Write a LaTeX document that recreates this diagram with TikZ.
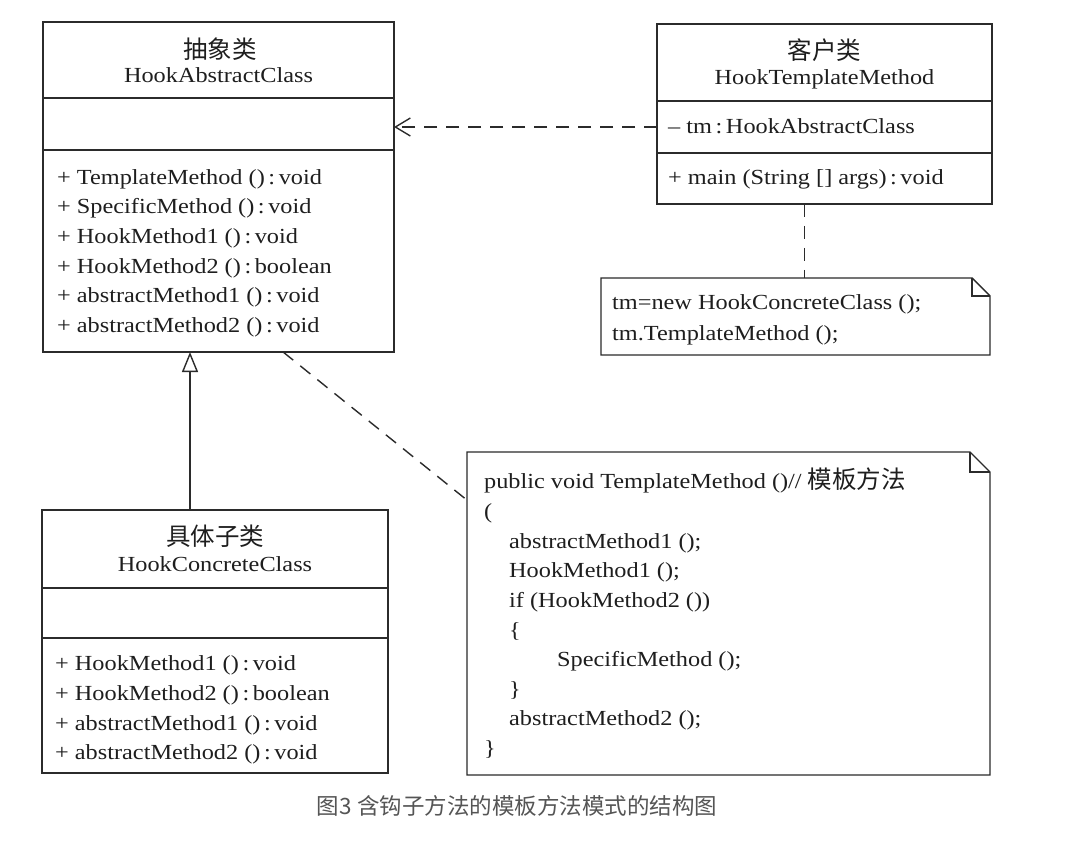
\documentclass[tikz,border=0pt]{standalone}
\usepackage{fontspec}
\setmainfont{Liberation Serif}[FakeStretch=1.13]
\newfontfamily\cjk{Noto Sans CJK SC}
\usetikzlibrary{arrows.meta,calc}
\definecolor{linec}{HTML}{2B2B2B}
\definecolor{textc}{HTML}{1E1E1E}
\definecolor{capc}{HTML}{555555}
\begin{document}
\begin{tikzpicture}[x=1pt,y=-1pt,
  frame/.style={draw=linec, line width=1.4pt},
  boxph/.style={anchor=north west, inner sep=0pt, outer sep=0pt},
  txt/.style={anchor=base west, inner sep=0pt, text=textc, font=\fontsize{21.5}{26}\selectfont},
  ttl/.style={anchor=base, inner sep=0pt, text=textc, font=\fontsize{21.5}{26}\selectfont},
  cjt/.style={anchor=center, inner sep=0pt, text=textc, font=\cjk\fontsize{24.5}{28}\selectfont},
  dashln/.style={draw=linec, line width=1.4pt, dash pattern=on 13pt off 9pt}]
\useasboundingbox (0,0) rectangle (1066,845);
\fill[white] (0,0) rectangle (1066,845);

% ---------- abstract class ----------
\node[boxph, frame, minimum width=351pt, minimum height=330pt] (abs) at (43,22) {};
\draw[frame] ($(abs.north west)+(0,76)$) -- ($(abs.north east)+(0,76)$);
\draw[frame] ($(abs.north west)+(0,128)$) -- ($(abs.north east)+(0,128)$);
\node[cjt] (absc) at (220,49) {抽象类};
\node[ttl] (absn) at (218.5,83) {HookAbstractClass};
\node[txt] (am1) at (57,185) {+ TemplateMethod ()\,:\,void};
\node[txt] (am2) at (57,214) {+ SpecificMethod ()\,:\,void};
\node[txt] (am3) at (57,244) {+ HookMethod1 ()\,:\,void};
\node[txt] (am4) at (57,273) {+ HookMethod2 ()\,:\,boolean};
\node[txt] (am5) at (57,302) {+ abstractMethod1 ()\,:\,void};
\node[txt] (am6) at (57,332) {+ abstractMethod2 ()\,:\,void};

% ---------- client class ----------
\node[boxph, frame, minimum width=335pt, minimum height=180pt] (cli) at (657,24) {};
\draw[frame] ($(cli.north west)+(0,77)$) -- ($(cli.north east)+(0,77)$);
\draw[frame] ($(cli.north west)+(0,129)$) -- ($(cli.north east)+(0,129)$);
\node[cjt] (clic) at (824.5,50) {客户类};
\node[ttl] (clin) at (824.5,85) {HookTemplateMethod};
\node[txt] (cla) at (668,134) {– tm\,:\,HookAbstractClass};
\node[txt] (clm) at (668,185) {+ main (String [] args)\,:\,void};

% ---------- note 1 ----------
\node[boxph, minimum width=389pt, minimum height=77pt] (n1) at (601,278) {};
\draw[frame, line join=miter] (n1.north west) -- ($(n1.north east)+(-18,0)$) -- ($(n1.north east)+(0,18)$) -- (n1.south east) -- (n1.south west) -- cycle;
\draw[frame] ($(n1.north east)+(-18,0)$) -- ($(n1.north east)+(-18,18)$) -- ($(n1.north east)+(0,18)$);
\node[txt] (n1a) at (612,309) {tm=new HookConcreteClass ();};
\node[txt] (n1b) at (612,340) {tm.TemplateMethod ();};

% ---------- concrete class ----------
\node[boxph, frame, minimum width=346pt, minimum height=263pt] (con) at (42,510) {};
\draw[frame] ($(con.north west)+(0,78)$) -- ($(con.north east)+(0,78)$);
\draw[frame] ($(con.north west)+(0,128)$) -- ($(con.north east)+(0,128)$);
\node[cjt] (conc) at (215,536) {具体子类};
\node[ttl] (conn) at (215,571) {HookConcreteClass};
\node[txt] (cm1) at (55,670) {+ HookMethod1 ()\,:\,void};
\node[txt] (cm2) at (55,700) {+ HookMethod2 ()\,:\,boolean};
\node[txt] (cm3) at (55,730) {+ abstractMethod1 ()\,:\,void};
\node[txt] (cm4) at (55,759) {+ abstractMethod2 ()\,:\,void};

% ---------- note 2 ----------
\node[boxph, minimum width=523pt, minimum height=323pt] (n2) at (467,452) {};
\draw[frame, line join=miter] (n2.north west) -- ($(n2.north east)+(-20,0)$) -- ($(n2.north east)+(0,20)$) -- (n2.south east) -- (n2.south west) -- cycle;
\draw[frame] ($(n2.north east)+(-20,0)$) -- ($(n2.north east)+(-20,20)$) -- ($(n2.north east)+(0,20)$);
\node[txt] (l1) at (484,488) {public void TemplateMethod ()// {\cjk\fontsize{24.5}{28}\selectfont 模板方法}};
\node[txt] (l2) at (484,518) {(};
\node[txt] (l3) at (509,548) {abstractMethod1 ();};
\node[txt] (l4) at (509,577) {HookMethod1 ();};
\node[txt] (l5) at (509,607) {if (HookMethod2 ())};
\node[txt] (l6) at (509,637) {\{};
\node[txt] (l7) at (557,666) {SpecificMethod ();};
\node[txt] (l8) at (509,696) {\}};
\node[txt] (l9) at (509,725) {abstractMethod2 ();};
\node[txt] (l10) at (484,755) {\}};

% ---------- connectors ----------
\coordinate (dep) at ($(cli.north west)+(0,103)$);
\draw[dashln, -{Straight Barb[length=15pt, width=18pt, line width=1.4pt]}] (dep) -- (dep -| abs.east);

\coordinate (g) at ($(con.north west)+(148,0)$);
\draw[frame, -{Triangle[open, length=20pt, width=16pt, fill=white]}] (g) -- (g |- abs.south);

\coordinate (c1) at ($(cli.south west)!0.44!(cli.south east)$);
\draw[dashln] (c1) -- (c1 |- n1.north);

\coordinate (a1) at ($(abs.south west)!0.684!(abs.south east)$);
\coordinate (a2) at ($(n2.north west)!0.149!(n2.south west)$);
\draw[dashln] (a1) -- (a2);

% ---------- caption ----------
\node[anchor=center, inner sep=0pt, text=capc, font=\cjk\fontsize{22.5}{26}\selectfont] (cap) at (517,806) {图3 含钩子方法的模板方法模式的结构图};
\end{tikzpicture}
\end{document}
